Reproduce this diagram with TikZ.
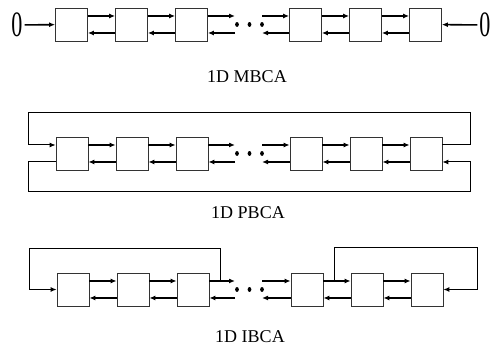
\documentclass[tikz,border=0pt]{standalone}
\usepackage{fontspec}
\setmainfont{Liberation Serif}
\usetikzlibrary{arrows.meta,calc,shapes.geometric}
\begin{document}
\begin{tikzpicture}[x=1pt,y=1pt,
  cell/.style={draw=black!80,line width=0.8pt,minimum width=32pt,minimum height=33pt,inner sep=0pt,fill=white},
  arr/.style={line width=1.6pt,-{Latex[length=6pt,width=5pt]}},
  wirearr/.style={line width=1pt,-{Latex[length=6pt,width=5pt]}},
  dotmark/.style={ellipse,fill=black,inner sep=0pt,minimum width=3.8pt,minimum height=4.8pt},
  zero/.style={font=\fontsize{17}{17}\selectfont,inner sep=2pt},
  caption/.style={font=\fontsize{18}{18}\selectfont,anchor=base,inner sep=0pt}]
\useasboundingbox (0,0) rectangle (499,347);

% ---------- cells of the three rows ----------
\foreach \i/\x in {1/71.5,2/131.5,3/191.5,4/305.5,5/365.5,6/425.5}{
  \node[cell] (a\i) at (\x,322.5) {};
  \node[cell] (b\i) at (\x+0.5,193.5) {};
  \node[cell] (c\i) at (\x+1.5,57.5) {};
}

% ---------- ellipsis dots and the ends of the gap arrows ----------
\foreach \r/\y in {a/322.5,b/193.5,c/57.5}{
  \node[dotmark] (\r d1) at (237,\y) {};
  \node[dotmark] (\r d2) at (249.5,\y) {};
  \node[dotmark] (\r d3) at (262,\y) {};
  \coordinate (\r gl) at (235,\y);
  \coordinate (\r gr) at (262,\y);
}

% ---------- neighbour arrows (right on top, left below) ----------
\foreach \r in {a,b,c}{
  \foreach \p/\q in {1/2,2/3,4/5,5/6}{
    \draw[arr] ([yshift=8.5pt]\r\p.east) -- ([yshift=8.5pt]\r\q.west);
    \draw[arr] ([yshift=-8.5pt]\r\q.west) -- ([yshift=-8.5pt]\r\p.east);
  }
  \draw[arr] ([yshift=8.5pt]\r3.east) -- ([yshift=8.5pt]\r gl);
  \draw[arr] ([yshift=-8.5pt]\r gl) -- ([yshift=-8.5pt]\r3.east);
  \draw[arr] ([yshift=8.5pt]\r gr) -- ([yshift=8.5pt]\r4.west);
  \draw[arr] ([yshift=-8.5pt]\r4.west) -- ([yshift=-8.5pt]\r gr);
}

% ---------- 1D MBCA: null boundaries ----------
\node[zero] (z1) at (17,322) {\scalebox{1.3}[2.1]{0}};
\node[zero] (z2) at (485,322) {\scalebox{1.3}[2.1]{0}};
\draw[arr] (z1) -- (a1);
\draw[arr] (z2) -- (a6);
\node[caption] (capa) at (247,264) {1D MBCA};

% ---------- 1D PBCA: periodic boundaries ----------
\coordinate (btr) at (470,234);
\coordinate (btl) at (28,234);
\coordinate (bbl) at (28,155);
\coordinate (bbr) at (470,155);
\draw[wirearr] ([yshift=8.5pt]b6.east) -| (btr) -- (btl) |- ([yshift=8.5pt]b1.west);
\draw[wirearr] ([yshift=-8.5pt]b1.west) -| (bbl) -- (bbr) |- ([yshift=-8.5pt]b6.east);
\node[caption] (capb) at (248,128) {1D PBCA};

% ---------- 1D IBCA: intermediate boundaries ----------
\coordinate (cs1) at (220,66);
\coordinate (ctl) at (29,98);
\coordinate (cs2) at (334,66);
\coordinate (ctr) at (477,99);
\draw[wirearr] (cs1) |- (ctl) |- (c1.west);
\draw[wirearr] (cs2) |- (ctr) |- (c6.east);
\node[caption] (capc) at (250,4) {1D IBCA};
\end{tikzpicture}
\end{document}
